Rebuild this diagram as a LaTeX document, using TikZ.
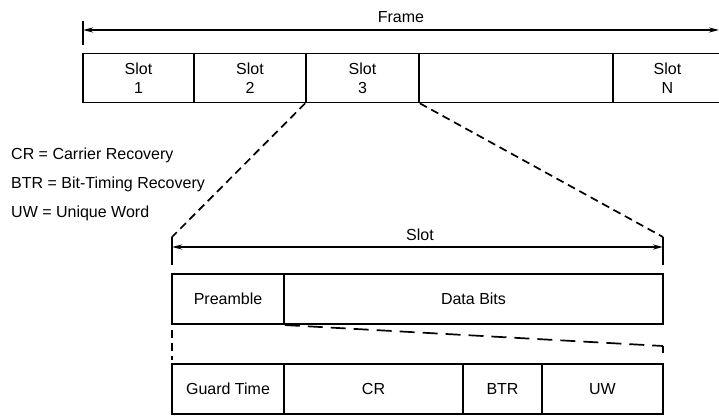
\documentclass[tikz,border=0pt]{standalone}
\usepackage{fontspec}
\setmainfont{Liberation Sans}
\usetikzlibrary{arrows.meta}
\begin{document}
\begin{tikzpicture}[x=1pt,y=-1pt,
  lbl/.style={font=\fontsize{16}{19}\selectfont, inner sep=0pt},
  cell/.style={draw, line width=1.6pt, rectangle, inner sep=0pt, font=\fontsize{16}{19}\selectfont, align=center},
  dim/.style={line width=1.8pt, {Stealth[length=10pt,width=5pt]}-{Stealth[length=10pt,width=5pt]}},
  tickline/.style={line width=1.6pt},
  zoomA/.style={line width=1.7pt, dash pattern=on 8pt off 5pt},
  zoomB/.style={line width=1.7pt, dash pattern=on 15pt off 8pt}]
\useasboundingbox (0,0) rectangle (719,415);
% Frame dimension
\coordinate (ft1) at (83,21);
\coordinate (ft2) at (83,45);
\draw[tickline] (ft1) -- (ft2);
\coordinate (fa) at (83,30);
\coordinate (fb) at (719,30);
\draw[dim] (fa) -- (fb);
\node[lbl] (frame) at (401,17) {Frame};
% Top row
\node[cell, minimum width=111pt, minimum height=49pt] (s1) at (138.5,78) {Slot\\1};
\node[cell, minimum width=112pt, minimum height=49pt] (s2) at (250,78) {Slot\\2};
\node[cell, minimum width=113pt, minimum height=49pt] (s3) at (362.5,78) {Slot\\3};
\node[cell, minimum width=194pt, minimum height=49pt] (s4) at (516,78) {};
\node[cell, minimum width=109pt, minimum height=49pt] (sN) at (667.5,78) {Slot\\N};
% Zoom lines from slot 3
\coordinate (zl) at (172,237);
\coordinate (zr) at (663,237);
\draw[zoomA] (s3.south west) -- (zl);
\draw[zoomA] (s3.south east) -- (zr);
% Legend
\node[lbl, anchor=west] (l1) at (11,155) {CR = Carrier Recovery};
\node[lbl, anchor=west] (l2) at (11,184) {BTR = Bit-Timing Recovery};
\node[lbl, anchor=west] (l3) at (11,213) {UW = Unique Word};
% Slot dimension
\coordinate (st1b) at (172,265);
\coordinate (st2b) at (663,265);
\draw[tickline] (zl) -- (st1b);
\draw[tickline] (zr) -- (st2b);
\coordinate (sa) at (172,247);
\coordinate (sb) at (663,247);
\draw[dim] (sa) -- (sb);
\node[lbl] (slotlbl) at (420,235) {Slot};
% Second row
\node[cell, minimum width=112pt, minimum height=50.5pt] (pre) at (228,299) {Preamble};
\node[cell, minimum width=379pt, minimum height=50.5pt] (data) at (473.5,299) {Data Bits};
% Zoom lines from preamble
\coordinate (pl1) at (172,330);
\coordinate (pl2) at (172,360);
\draw[zoomA] (pl1) -- (pl2);
\coordinate (pr1) at (663,346);
\coordinate (pr2) at (663,353);
\draw[zoomB] (pre.south east) -- (pr1);
\draw[line width=1.7pt] (pr1) -- (pr2);
% Third row
\node[cell, minimum width=112pt, minimum height=50pt] (gt) at (228,389) {Guard Time};
\node[cell, minimum width=179pt, minimum height=50pt] (cr) at (373.5,389) {CR};
\node[cell, minimum width=79pt, minimum height=50pt] (btr) at (502.5,389) {BTR};
\node[cell, minimum width=121pt, minimum height=50pt] (uw) at (602.5,389) {UW};
\end{tikzpicture}
\end{document}
